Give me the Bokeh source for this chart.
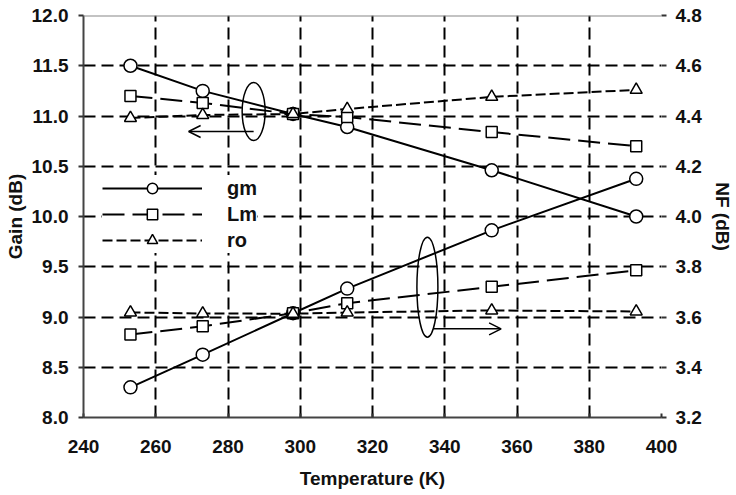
from bokeh.plotting import figure
from bokeh.models import (Range1d, LinearAxis, FixedTicker, PrintfTickFormatter,
                          Legend, LegendItem, Span, Arrow, OpenHead)
from bokeh.embed import file_html
from bokeh.resources import INLINE

# ---------------- data ----------------
temps = [253, 273, 298, 313, 353, 393]
gain_gm = [11.50, 11.25, 11.02, 10.89, 10.46, 10.00]
gain_lm = [11.20, 11.13, 11.02, 10.99, 10.84, 10.70]
gain_ro = [10.98, 11.01, 11.02, 11.07, 11.19, 11.26]
nf_gm = [3.32, 3.45, 3.615, 3.713, 3.945, 4.15]
nf_lm = [3.53, 3.563, 3.615, 3.655, 3.72, 3.786]
nf_ro = [3.618, 3.614, 3.613, 3.618, 3.626, 3.622]

x_ticks = [240, 260, 280, 300, 320, 340, 360, 380, 400]
gain_ticks = [8.0, 8.5, 9.0, 9.5, 10.0, 10.5, 11.0, 11.5, 12.0]
nf_ticks = [3.2, 3.4, 3.6, 3.8, 4.0, 4.2, 4.4, 4.6, 4.8]

# annotation anchors (data coords)
ell_x = [287.1, 335.2]
ell_y = [11.045, 9.297]
ell_h = [58, 100]
arrow1 = (287.1, 269.1, 10.846)
arrow2 = (336.8, 355.6, 8.882)

FONT = "Liberation Sans"

p = figure(width=736, height=495, output_backend="svg", toolbar_location=None,
           x_range=Range1d(240, 400), y_range=Range1d(8, 12),
           min_border_left=83, min_border_right=75, min_border_top=15,
           min_border_bottom=78)
p.extra_y_ranges = {"nf": Range1d(3.2, 4.8)}
p.outline_line_color = None
p.background_fill_color = "white"
p.border_fill_color = "white"

# grid
p.xgrid.ticker = FixedTicker(ticks=x_ticks[1:])
p.ygrid.ticker = FixedTicker(ticks=gain_ticks[1:-1])
for g in (p.xgrid, p.ygrid):
    g.grid_line_color = "black"
    g.grid_line_width = 2
    g.grid_line_dash = "12 6"

def style_axis(ax):
    ax.major_label_text_font = FONT
    ax.major_label_text_font_style = "bold"
    ax.major_label_text_font_size = "19px"
    ax.major_label_text_color = "#111111"
    ax.axis_label_text_font = FONT
    ax.axis_label_text_font_style = "bold"
    ax.axis_label_text_font_size = "19px"
    ax.axis_label_text_color = "#111111"
    ax.minor_tick_line_color = None
    ax.major_tick_out = 5
    ax.major_tick_in = 0
    ax.major_tick_line_color = "#333333"
    ax.major_tick_line_width = 2
    ax.axis_line_color = "#444444"
    ax.axis_line_width = 2

xa = p.xaxis[0]
xa.ticker = FixedTicker(ticks=x_ticks)
xa.axis_label = "Temperature (K)"
style_axis(xa)
xa.major_tick_out = 0
xa.major_tick_in = 4
xa.major_label_standoff = 22
xa.axis_label_standoff = 12

ya = p.yaxis[0]
ya.ticker = FixedTicker(ticks=gain_ticks)
ya.formatter = PrintfTickFormatter(format="%.1f")
ya.axis_label = "Gain (dB)"
style_axis(ya)
ya.major_label_standoff = 10
ya.axis_label_standoff = 3

ra = LinearAxis(y_range_name="nf", axis_label="NF (dB)")
ra.ticker = FixedTicker(ticks=nf_ticks)
ra.formatter = PrintfTickFormatter(format="%.1f")
style_axis(ra)
ra.axis_line_color = None
ra.major_label_standoff = 9
ra.axis_label_standoff = 7
p.add_layout(ra, "right")

p.add_layout(Span(location=12, dimension="width", line_color="#888888", line_width=2))

# series
styles = [
    ("gm", gain_gm, nf_gm, "solid", "circle", 13),
    ("Lm", gain_lm, nf_lm, "22 8", "square", 11),
    ("ro", gain_ro, nf_ro, "10 4", "triangle", 12),
]
items = []
for name, g, n, dash, marker, size in styles:
    rl = p.line(temps, g, line_color="black", line_width=2, line_dash=dash)
    rs = p.scatter(temps, g, marker=marker, size=size, fill_color="white",
                   line_color="black", line_width=1.5)
    p.line(temps, n, line_color="black", line_width=2, line_dash=dash, y_range_name="nf")
    p.scatter(temps, n, marker=marker, size=size, fill_color="white",
              line_color="black", line_width=1.5, y_range_name="nf")
    items.append(LegendItem(label=name, renderers=[rl, rs]))

legend = Legend(items=items, location=(19, 164), orientation="vertical",
                glyph_width=100, glyph_height=26, label_height=26,
                label_standoff=25, spacing=0, padding=10, margin=0,
                border_line_color=None, background_fill_color="white",
                background_fill_alpha=1.0,
                label_text_font=FONT, label_text_font_style="bold",
                label_text_font_size="20px", label_text_color="#111111")
p.add_layout(legend, "center")

# annotations: ellipses and arrows
p.ellipse(x=ell_x, y=ell_y, width=[23, 21], height=ell_h,
          width_units="screen", height_units="screen",
          fill_color=None, line_color="black", line_width=1.5)
p.add_layout(Arrow(x_start=arrow1[0], x_end=arrow1[1], y_start=arrow1[2], y_end=arrow1[2],
                   line_color="black", line_width=1.5,
                   end=OpenHead(size=12, line_color="black", line_width=1.5)))
p.add_layout(Arrow(x_start=arrow2[0], x_end=arrow2[1], y_start=arrow2[2], y_end=arrow2[2],
                   line_color="black", line_width=1.5,
                   end=OpenHead(size=12, line_color="black", line_width=1.5)))

open("out.html", "w").write(file_html(p, INLINE))
